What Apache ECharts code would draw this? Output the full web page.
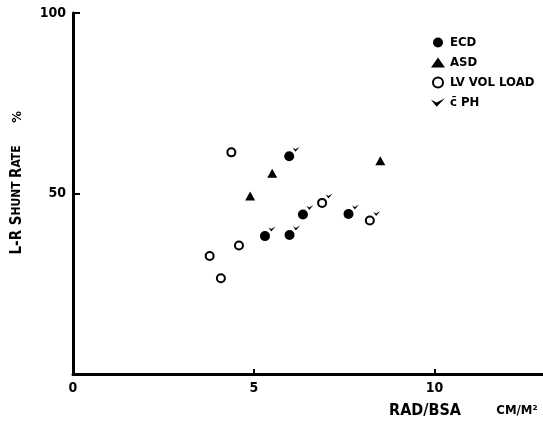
<!DOCTYPE html>
<html>
<head>
<meta charset="utf-8">
<script src="https://cdn.jsdelivr.net/npm/echarts@6/dist/echarts.min.js"></script>
<style>html,body{margin:0;padding:0;background:#fff}#c{width:543px;height:422px}</style>
</head>
<body>
<div id="c"></div>
<script>
// Data (x: RAD/BSA cm/m², y: L-R shunt rate %)
var seriesNames = ['ECD', 'ASD', 'LV VOL LOAD', 'c\u0304 PH'];
var ecdPoints = [[5.98, 60.3], [6.36, 44.2], [7.62, 44.3], [5.31, 38.2], [5.99, 38.5]];
var asdPoints = [[5.51, 55.6], [8.50, 59.1], [4.90, 49.3]];
var lvPoints  = [[4.38, 61.4], [6.89, 47.4], [8.21, 42.5], [4.59, 35.6], [3.78, 32.7], [4.09, 26.5]];
var phPoints  = [[5.98, 60.3], [6.36, 44.2], [7.62, 44.3], [5.31, 38.2], [5.99, 38.5], [6.89, 47.4], [8.21, 42.5]];
var xTicks = [0, 5, 10];
var yTicks = [50, 100];

var FONT = "'Liberation Sans Narrow', 'DejaVu Sans Condensed', 'Liberation Sans', sans-serif";
var checkPath = 'path://M0,1 L4,6 L10,0 L4,3 Z';

var chart = echarts.init(document.getElementById('c'), null, {renderer: 'canvas'});
chart.setOption({
  animation: false,
  backgroundColor: '#fff',
  grid: {left: 73, right: 0, top: 13, bottom: 48, containLabel: false},
  xAxis: {
    type: 'value', min: 0, max: 13, interval: 5,
    axisLine: {lineStyle: {color: '#000', width: 3}},
    axisTick: {show: true, inside: true, length: 5, lineStyle: {color: '#000', width: 2}},
    splitLine: {show: false},
    axisLabel: {
      color: '#000', fontFamily: FONT, fontWeight: 'bold', fontSize: 14, margin: 7,
      showMaxLabel: false,
      formatter: function (v) { return xTicks.indexOf(v) >= 0 ? String(v) : ''; }
    }
  },
  yAxis: {
    type: 'value', min: 0, max: 100, interval: 50,
    axisLine: {lineStyle: {color: '#000', width: 3}},
    axisTick: {show: true, inside: true, length: 7, lineStyle: {color: '#000', width: 2}},
    splitLine: {show: false},
    axisLabel: {
      color: '#000', fontFamily: FONT, fontWeight: 'bold', fontSize: 14, margin: 7,
      showMinLabel: false,
      formatter: function (v) { return yTicks.indexOf(v) >= 0 ? String(v) : ''; }
    }
  },
  legend: {
    orient: 'vertical', left: 426, top: 31, itemWidth: 14, itemHeight: 10, itemGap: 7,
    textStyle: {color: '#000', fontFamily: FONT, fontWeight: 'bold', fontSize: 13},
    data: seriesNames
  },
  series: [
    {name: seriesNames[0], type: 'scatter', symbol: 'circle', symbolSize: 10,
     itemStyle: {color: '#000', opacity: 1}, data: ecdPoints, z: 3},
    {name: seriesNames[1], type: 'scatter', symbol: 'triangle', symbolSize: [10, 9],
     itemStyle: {color: '#000', opacity: 1}, data: asdPoints, z: 3},
    {name: seriesNames[2], type: 'scatter', symbol: 'circle', symbolSize: 8,
     itemStyle: {color: '#fff', borderColor: '#000', borderWidth: 2, opacity: 1}, data: lvPoints, z: 3},
    {name: seriesNames[3], type: 'scatter', symbol: checkPath, symbolSize: [7, 5],
     symbolOffset: [7, -7], itemStyle: {color: '#000', opacity: 1}, data: phPoints, z: 4}
  ],
  graphic: [
    {type: 'text', x: 17, y: 200, rotation: Math.PI / 2, originX: 0, originY: 0,
     style: {
       text: '{b|L-R S}{s|HUNT} {b|R}{s|ATE}',
       rich: {
         b: {fontFamily: FONT, fontWeight: 'bold', fontSize: 15, fill: '#000'},
         s: {fontFamily: FONT, fontWeight: 'bold', fontSize: 12, fill: '#000'}
       },
       align: 'center', verticalAlign: 'middle', fill: '#000'
     }},
    {type: 'text', x: 18, y: 117, rotation: Math.PI / 2,
     style: {text: '%', fontFamily: FONT, fontWeight: 'bold', fontSize: 13, fill: '#000',
             align: 'center', verticalAlign: 'middle'}},
    {type: 'text', x: 425, y: 411,
     style: {text: 'RAD/BSA', fontFamily: FONT, fontWeight: 'bold', fontSize: 16, fill: '#000',
             align: 'center', verticalAlign: 'middle'}},
    {type: 'text', x: 517, y: 411,
     style: {text: 'CM/M\u00B2', fontFamily: FONT, fontWeight: 'bold', fontSize: 13, fill: '#000',
             align: 'center', verticalAlign: 'middle'}}
  ]
});
</script>
</body>
</html>
